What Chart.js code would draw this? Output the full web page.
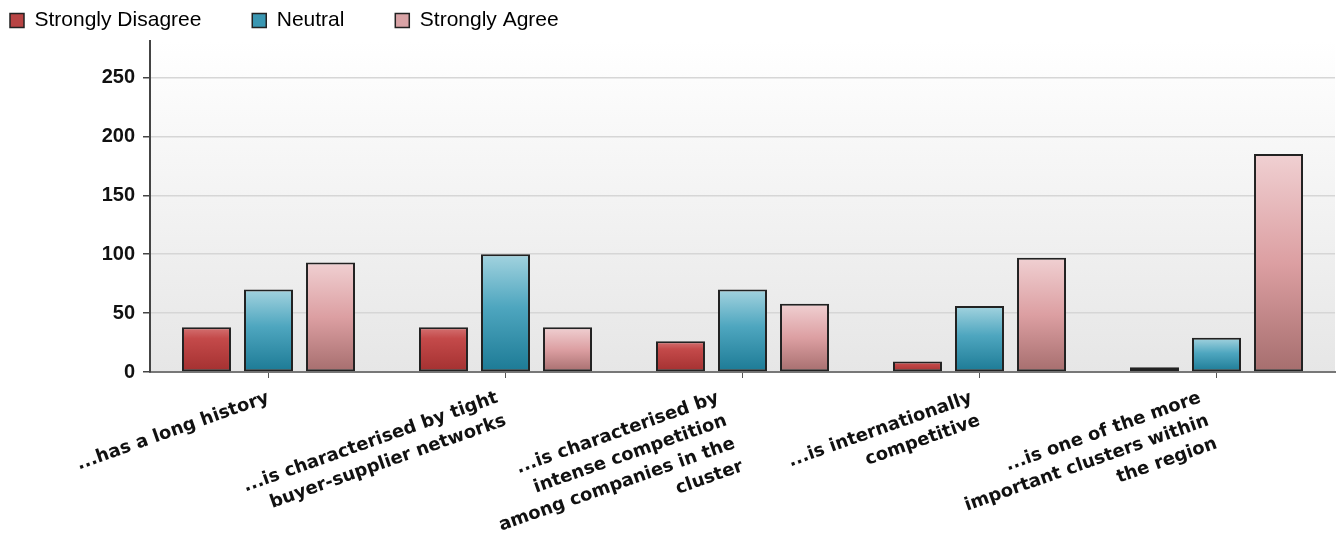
<!DOCTYPE html>
<html><head><meta charset="utf-8">
<script src="https://cdn.jsdelivr.net/npm/chart.js@4/dist/chart.umd.min.js"></script>
<style>html,body{margin:0;padding:0;background:#fff}#wrap{width:1338px;height:546px;position:relative}</style>
</head><body><div id="wrap"><canvas id="c"></canvas></div>
<script>
const categories = [
  ["...has a long history"],
  ["...is characterised by tight", "buyer-supplier networks"],
  ["...is characterised by", "intense competition", "among companies in the", "cluster"],
  ["...is internationally", "competitive"],
  ["...is one of the more", "important clusters within", "the region"]
];
const seriesNames = ["Strongly Disagree", "Neutral", "Strongly Agree"];
const stronglyDisagree = [38, 38, 26, 9, 4];
const neutral = [70, 100, 70, 56, 29];
const stronglyAgree = [93, 38, 58, 97, 185];
const yTicks = [0, 50, 100, 150, 200, 250];

const gradStops = [
  [[0, '#d47272'], [0.25, '#c44a4a'], [1, '#a33030']],
  [[0, '#a3d3df'], [0.45, '#4ea6bf'], [1, '#1c7a95']],
  [[0, '#f0d0d2'], [0.5, '#dc9fa2'], [1, '#a66e6e']]
];
const solid = ['#b84444', '#3a97b2', '#d9a3a6'];
const labelAngle = 19.5;

function barGradient(si) {
  return function(ctx) {
    const chart = ctx.chart;
    const y = chart.scales && chart.scales.y;
    if (!chart.chartArea || !y || ctx.raw === undefined) return solid[si];
    const top = y.getPixelForValue(ctx.raw);
    const bot = y.getPixelForValue(0);
    if (!isFinite(top) || !isFinite(bot) || bot - top < 1) return solid[si];
    const g = chart.ctx.createLinearGradient(0, top, 0, bot);
    gradStops[si].forEach(s => g.addColorStop(s[0], s[1]));
    return g;
  };
}

const bgPlugin = {
  id: 'plotBg',
  beforeDraw(chart) {
    const a = chart.chartArea, c = chart.ctx;
    c.save();
    const g = c.createLinearGradient(0, a.top, 0, a.bottom);
    g.addColorStop(0, '#ffffff');
    g.addColorStop(1, '#e6e6e6');
    c.fillStyle = g;
    c.fillRect(a.left, a.top, a.right - a.left, a.bottom - a.top);
    c.restore();
  }
};

// multi-line rotated labels: keep the last line's end at the tick
const shifted = new WeakSet();
const labelShiftPlugin = {
  id: 'labelShift',
  beforeDraw(chart) {
    const sx = chart.scales.x;
    if (!sx || !sx.getLabelItems) return;
    const items = sx.getLabelItems();
    if (!items || shifted.has(items)) return;
    shifted.add(items);
    const s = Math.sin(labelAngle * Math.PI / 180);
    items.forEach(it => {
      const n = Array.isArray(it.label) ? it.label.length : 1;
      const lh = it.font.lineHeight;
      it.options.translation[0] -= (n - 1) * lh * s;
    });
  }
};

const seriesData = [stronglyDisagree, neutral, stronglyAgree];
const legendGap = '       ';

new Chart(document.getElementById('c'), {
  type: 'bar',
  data: {
    labels: categories,
    datasets: seriesData.map((d, i) => ({
      label: seriesNames[i],
      data: d,
      backgroundColor: barGradient(i),
      borderColor: '#222',
      borderWidth: 2,
      borderSkipped: false,
      categoryPercentage: 0.785,
      barPercentage: 0.79
    }))
  },
  options: {
    responsive: true,
    maintainAspectRatio: false,
    animation: false,
    layout: { padding: { left: 0, right: 3, top: 0, bottom: 0 } },
    plugins: {
      tooltip: { enabled: false },
      legend: {
        position: 'top',
        align: 'start',
        labels: {
          boxWidth: 14,
          boxHeight: 14,
          padding: 10,
          color: '#111',
          font: { family: 'Liberation Sans, Arial, sans-serif', size: 21 },
          generateLabels(chart) {
            return chart.data.datasets.map((ds, i) => ({
              text: ds.label + legendGap,
              fillStyle: solid[i],
              strokeStyle: '#222',
              lineWidth: 1.5,
              datasetIndex: i,
              hidden: false
            }));
          }
        }
      }
    },
    scales: {
      x: {
        offset: true,
        grid: { display: true, drawOnChartArea: false, offset: false, tickLength: 6, tickColor: '#555' },
        border: { color: '#777', width: 2 },
        ticks: {
          autoSkip: false,
          minRotation: labelAngle,
          maxRotation: labelAngle,
          padding: 8,
          color: '#111',
          font: { family: 'DejaVu Sans, sans-serif', size: 18, weight: 'bold', lineHeight: 1.35 }
        },
        afterFit(scale) { scale.height = 174; }
      },
      y: {
        min: 0,
        max: 281,
        afterBuildTicks(scale) { scale.ticks = yTicks.map(v => ({ value: v })); },
        grid: { color: '#d6d6d6', lineWidth: 1.5, tickLength: 7, tickColor: '#444' },
        border: { color: '#444', width: 2 },
        ticks: {
          padding: 8,
          color: '#111',
          font: { family: 'Liberation Sans, Arial, sans-serif', size: 20, weight: 'bold' }
        },
        afterFit(scale) { scale.width = 150; }
      }
    }
  },
  plugins: [bgPlugin, labelShiftPlugin]
});
</script></body></html>
